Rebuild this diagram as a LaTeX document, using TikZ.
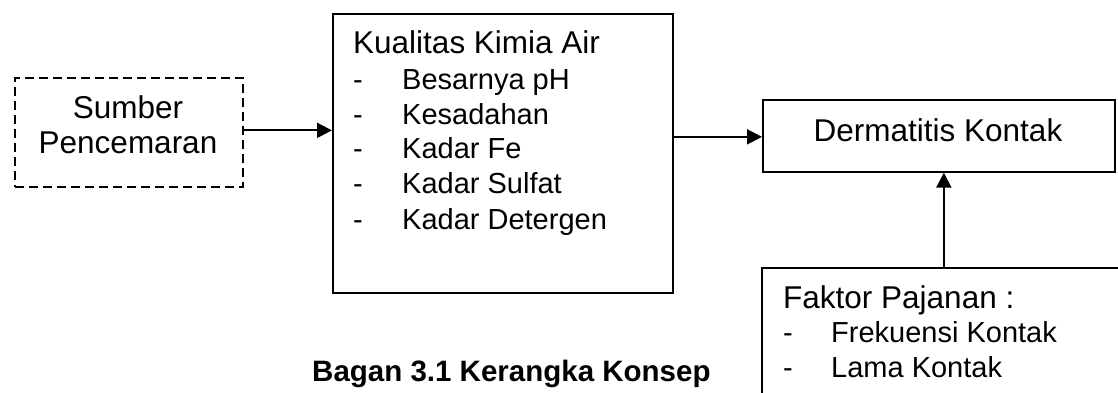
\documentclass[tikz,border=0pt]{standalone}
\usepackage{fontspec}
\setmainfont{Liberation Sans}
\usetikzlibrary{arrows.meta}
\begin{document}
\begin{tikzpicture}[x=1pt,y=-1pt,
  box/.style={draw,line width=1.7pt,inner sep=0pt,anchor=north west},
  txt/.style={inner sep=0pt,anchor=base west,font=\fontsize{31.5}{35}\selectfont},
  item/.style={inner sep=0pt,anchor=base west,font=\fontsize{29}{35}\selectfont},
  conn/.style={line width=2pt,-{Triangle[length=15pt,width=15pt]}}]
\useasboundingbox (0,0) rectangle (1118,392);
\clip (0,0) rectangle (1118,392);
% boxes
\node[box,dashed,dash pattern=on 9pt off 5pt,minimum width=228pt,minimum height=109pt] (sumber) at (14,77) {};
\node[box,minimum width=340pt,minimum height=279pt] (kualitas) at (332,13) {};
\node[box,minimum width=352pt,minimum height=72pt] (derm) at (762,99) {};
\node[box,minimum width=420pt,minimum height=200pt] (faktor) at (761,267) {};
% texts
\node[txt,anchor=base] (t1) at (128,118) {Sumber};
\node[txt,anchor=base] (t2) at (128,153) {Pencemaran};
\node[txt] (k0) at (353,53) {Kualitas Kimia Air};
\node[item] (d1) at (353,89) {-};
\node[item] (k1) at (402,89) {Besarnya pH};
\node[item] (d2) at (353,124) {-};
\node[item] (k2) at (402,124) {Kesadahan};
\node[item] (d3) at (353,158) {-};
\node[item] (k3) at (402,158) {Kadar Fe};
\node[item] (d4) at (353,193) {-};
\node[item] (k4) at (402,193) {Kadar Sulfat};
\node[item] (d5) at (353,229) {-};
\node[item] (k5) at (402,229) {Kadar Detergen};
\node[txt,anchor=base] (dt) at (938,141) {Dermatitis Kontak};
\node[txt] (f0) at (783,308) {Faktor Pajanan :};
\node[item] (fd1) at (783,342) {-};
\node[item] (f1) at (831,342) {Frekuensi Kontak};
\node[item] (fd2) at (783,377) {-};
\node[item] (f2) at (831,377) {Lama Kontak};
\node[inner sep=0pt,anchor=base west,font=\fontsize{29.5}{35}\selectfont\bfseries] (cap) at (312,381) {Bagan 3.1 Kerangka Konsep};
% connectors
\draw[conn] ([yshift=2pt]sumber.east) -- ([yshift=2pt]sumber.east -| kualitas.west);
\draw[conn] ([yshift=-1pt]derm.west -| kualitas.east) -- ([yshift=-1pt]derm.west);
\draw[conn] ([xshift=5pt]derm.south |- faktor.north) -- ([xshift=5pt]derm.south);
\end{tikzpicture}
\end{document}
